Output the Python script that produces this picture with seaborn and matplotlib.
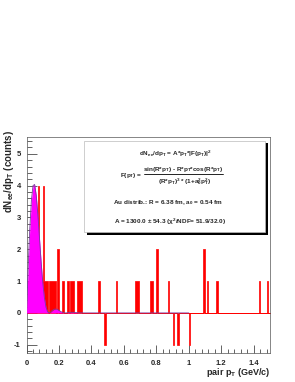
import matplotlib
matplotlib.use("Agg")
import matplotlib.pyplot as plt
from matplotlib.patches import Rectangle
from matplotlib.lines import Line2D
from matplotlib.ticker import MultipleLocator, FuncFormatter
import seaborn as sns

# histogram contents (bin centres, 0.01 GeV/c bins)
pt_center = [0.015, 0.025, 0.035, 0.045, 0.055, 0.065,
             0.075, 0.085, 0.095, 0.105, 0.115, 0.125,
             0.145, 0.155, 0.165, 0.175, 0.195, 0.225,
             0.255, 0.275, 0.285, 0.315, 0.325, 0.335,
             0.445, 0.485, 0.555, 0.675, 0.685, 0.765,
             0.775, 0.805, 0.875, 0.905, 0.935, 1.005,
             1.095, 1.115, 1.175, 1.435, 1.485]
counts = [1, 2, 3, 3, 3, 3,
          4, 1, 1, 4, 1, 1,
          1, 1, 1, 1, 2, 1,
          1, 1, 1, 1, 1, 1,
          1, -1, 1, 1, 1, 1,
          1, 2, 1, -1, -1, -1,
          2, 1, 1, 1, 1]

# fitted curve values
fit_pt = [0.0, 0.01, 0.02, 0.03, 0.04, 0.05, 0.06, 0.07, 0.08, 0.09,
          0.10, 0.11, 0.12, 0.13, 0.14, 0.15, 0.16, 0.17, 0.18, 0.19,
          0.20, 0.21, 0.22, 0.23, 0.24, 0.25, 0.26, 0.28, 0.30, 0.32,
          0.35, 1.0]
fit_val = [0.0, 1.413, 2.640, 3.533, 4.003, 4.038, 3.697, 3.089, 2.346, 1.604,
           0.962, 0.482, 0.179, 0.033, 0.0, 0.030, 0.078, 0.114, 0.125, 0.110,
           0.080, 0.047, 0.020, 0.004, 0.0, 0.004, 0.012, 0.020, 0.014, 0.004,
           0.0, 0.0]

sns.set_style("ticks")
plt.rcParams['font.family'] = ['Liberation Sans', 'DejaVu Sans']
plt.rcParams['font.weight'] = 'bold'
plt.rcParams['mathtext.fontset'] = 'custom'
plt.rcParams['mathtext.rm'] = 'Liberation Sans:bold'
plt.rcParams['mathtext.it'] = 'Liberation Sans:bold'
plt.rcParams['mathtext.bf'] = 'Liberation Sans:bold'
plt.rcParams['mathtext.default'] = 'rm'

W, H = 295, 382
fig = plt.figure(figsize=(W / 100, H / 100), dpi=100)
fig.patch.set_facecolor('white')
ax = fig.add_axes([26.5 / W, 1 - 353 / H, 243.5 / W, 216 / H])

sns.histplot(x=pt_center, weights=counts, binwidth=0.01, binrange=(0, 1.5),
             element="step", fill=True, color="red", edgecolor="red",
             alpha=1, linewidth=0.5, ax=ax, zorder=2)

ax.fill_between(fit_pt, fit_val, color="#ff00ff", lw=0, zorder=3)
sns.lineplot(x=fit_pt, y=fit_val, color="#7a3a9e", lw=0.6, ax=ax, zorder=4)

ax.set_xlim(0, 1.5)
ax.set_ylim(-1.26, 5.53)
for s in ax.spines.values():
    s.set_linewidth(0.5)
    s.set_color('#555555')

ax.xaxis.set_major_locator(MultipleLocator(0.2))
ax.xaxis.set_minor_locator(MultipleLocator(0.04))
ax.yaxis.set_major_locator(MultipleLocator(1))
ax.yaxis.set_minor_locator(MultipleLocator(0.2))
fmt = FuncFormatter(lambda v, p: "%g" % round(v, 2))
ax.xaxis.set_major_formatter(fmt)
ax.yaxis.set_major_formatter(fmt)
ax.tick_params(axis='x', which='major', direction='in', length=6, width=0.5, labelsize=5.5, pad=5)
ax.tick_params(axis='x', which='minor', direction='in', length=3, width=0.5)
ax.tick_params(axis='y', which='major', direction='in', length=7, width=0.5, labelsize=5.5, pad=4)
ax.tick_params(axis='y', which='minor', direction='in', length=3.5, width=0.5)

ax.set_xlabel("pair p$_T$ (GeV/c)", fontsize=6.5, fontweight='bold', loc='right')
ax.xaxis.set_label_coords(1.0, -0.06)
ax.set_ylabel("dN$_{ee}$/dp$_T$ (counts)", fontsize=7, fontweight='bold', loc='top')
ax.yaxis.set_label_coords(-0.045, 1.03)


def fx(x):
    return x / W


def fy(y):
    return 1 - y / H


# fit parameter box with shadow
fig.add_artist(Rectangle((fx(86.5), fy(234.5)), fx(181), 91 / H, transform=fig.transFigure,
                         facecolor='black', edgecolor='black', lw=0, zorder=5))
fig.add_artist(Rectangle((fx(84), fy(232)), fx(181), 91 / H, transform=fig.transFigure,
                         facecolor='white', edgecolor='#bbbbbb', lw=0.5, zorder=6))

ts = 4.6
kw = dict(transform=fig.transFigure, fontsize=ts, fontweight='bold', zorder=7, va='center')
fig.text(fx(175), fy(154), "dN$_{ee}$/dp$_T$ = A*p$_T$*|F(p$_T$)|$^2$", ha='center', **kw)
fig.text(fx(142), fy(175.5), "F(p$_T$) =", ha='right', **kw)
fig.text(fx(183.5), fy(169.5), "sin(R*p$_T$) - R*p$_T$*cos(R*p$_T$)", ha='center', **kw)
fig.add_artist(Line2D([fx(144), fx(223)], [fy(173.5), fy(173.5)], transform=fig.transFigure,
                      color='black', lw=0.6, zorder=7))
fig.text(fx(184.5), fy(181.5), "(R*p$_T$)$^3$ * (1+a$_0^2$p$_T^2$)", ha='center', **kw)
fig.text(fx(167.5), fy(203), "Au distrib.: R = 6.38 fm, a$_0$ = 0.54 fm", ha='center', **kw)
fig.text(fx(170), fy(221.5), "A = 1300.0 \u00b1 54.3 (\u03c7$^2$/NDF= 51.9/32.0)", ha='center', **kw)

fig.savefig("out.png", dpi=100)
